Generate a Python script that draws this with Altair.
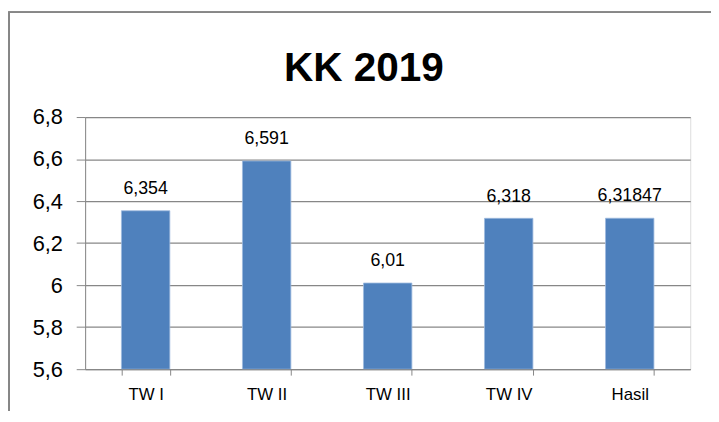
import altair as alt
import pandas as pd

categories = ["TW I", "TW II", "TW III", "TW IV", "Hasil"]
values = [6.354, 6.591, 6.01, 6.318, 6.31847]
y_ticks = [5.6, 5.8, 6.0, 6.2, 6.4, 6.6, 6.8]
title_text = "KK 2019"

df = pd.DataFrame({
    "cat": categories,
    "val": values,
    "label": [str(v).replace(".", ",") for v in values],
})

FONT = "Liberation Sans"
GRAY = "#878787"
BLUE = "#4F81BD"

x_enc = alt.X(
    "cat:N", sort=categories, title=None,
    scale=alt.Scale(paddingInner=0.6, paddingOuter=0.3),
    axis=alt.Axis(labelAngle=0, tickBand="extent", ticks=True, tickSize=6,
                  tickColor=GRAY, domainColor=GRAY, labelFont=FONT,
                  labelFontSize=17, labelColor="#000000", labelPadding=12,
                  grid=False),
)
y_enc = alt.Y(
    "val:Q", title=None,
    scale=alt.Scale(domain=[5.6, 6.8], zero=False, nice=False),
    axis=alt.Axis(values=y_ticks, grid=True, gridColor=GRAY, gridWidth=1.3,
                  tickColor=GRAY, tickSize=9, domainColor=GRAY,
                  labelFont=FONT, labelFontSize=22, labelColor="#000000",
                  labelPadding=14,
                  labelExpr="replace(format(datum.value, '~g'), '.', ',')"),
)

base = alt.Chart(df)
bars = base.mark_bar(color=BLUE, stroke="#9DB9DE", strokeWidth=0.8, clip=True).encode(
    x=x_enc, y=y_enc, y2=alt.datum(5.6))
labels = base.mark_text(font=FONT, fontSize=18, baseline="alphabetic", dy=-17,
                        color="#000000").encode(
    x=alt.X("cat:N", sort=categories), y="val:Q", text="label:N")

frame = alt.Chart(df).mark_rect(fill=None, stroke=GRAY, strokeWidth=1.5, clip=False).encode(
    x=alt.value(-77), x2=alt.value(640), y=alt.value(-106), y2=alt.value(330))

chart = alt.layer(frame, bars, labels).properties(
    width=612, height=255,
    autosize=alt.AutoSizeParams(type="none"),
    padding={"left": 78, "top": 108, "right": 21, "bottom": 40},
    title=alt.TitleParams(title_text, font=FONT, fontSize=41, fontWeight="bold",
                          anchor="middle", frame="group", dx=-24,
                          baseline="alphabetic", offset=-111, color="#000000"),
).configure_view(stroke=None).configure(background="white")

chart.save("out.html", embed_options={"renderer": "svg", "actions": False})
